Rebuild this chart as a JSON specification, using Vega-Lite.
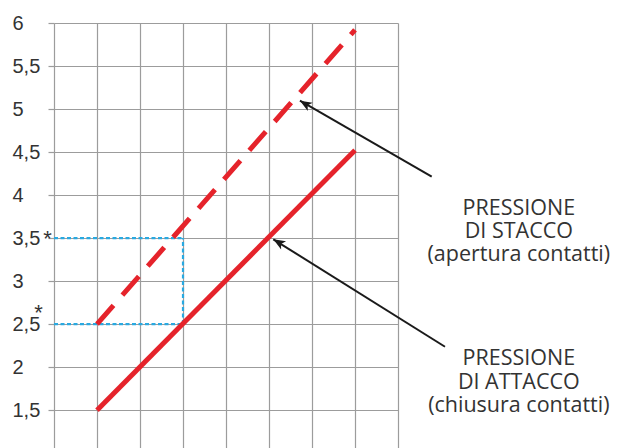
{
  "$schema": "https://vega.github.io/schema/vega-lite/v6.json",
  "width": 344,
  "height": 425,
  "autosize": {"type": "none"},
  "padding": {"left": 54, "top": 23, "right": 224, "bottom": 0},
  "background": "white",
  "config": {"view": {"stroke": null}},
  "datasets": {
    "lines": [
      {"x": 1, "y": 1.5, "s": "attacco"},
      {"x": 7, "y": 4.52, "s": "attacco"},
      {"x": 1, "y": 2.5, "s": "stacco"},
      {"x": 7, "y": 5.92, "s": "stacco"}
    ],
    "guides": [
      {"x": 0, "x2": 3, "y": 3.5, "y2": 3.5},
      {"x": 3, "x2": 3, "y": 2.5, "y2": 3.5},
      {"x": 0, "x2": 3, "y": 2.5, "y2": 2.5}
    ],
    "arrows": [
      {"x": 8.784, "y": 4.213, "x2": 5.72, "y2": 5.097},
      {"x": 9.093, "y": 2.237, "x2": 5.10, "y2": 3.486}
    ],
    "labels": [
      {"x": 10.81, "y": 3.768, "text": "PRESSIONE"},
      {"x": 10.81, "y": 3.497, "text": "DI STACCO"},
      {"x": 10.81, "y": 3.228, "text": "(apertura contatti)"},
      {"x": 10.81, "y": 2.025, "text": "PRESSIONE"},
      {"x": 10.81, "y": 1.751, "text": "DI ATTACCO"},
      {"x": 10.81, "y": 1.478, "text": "(chiusura contatti)"}
    ],
    "stars": [
      {"x": -0.15, "y": 3.41, "text": "*"},
      {"x": -0.36, "y": 2.55, "text": "*"}
    ]
  },
  "layer": [
    {
      "data": {"name": "guides"},
      "mark": {"type": "rule", "color": "#29a9e1", "strokeWidth": 2.2, "strokeDash": [4, 2.5]},
      "encoding": {
        "x": {
          "field": "x", "type": "quantitative",
          "scale": {"domain": [0, 8], "nice": false, "zero": false},
          "axis": {"values": [0, 1, 2, 3, 4, 5, 6, 7, 8], "grid": true, "gridColor": "#9c9c9c", "gridWidth": 1.2, "gridOpacity": 1, "labels": false, "ticks": false, "domain": false, "title": null}
        },
        "y": {
          "field": "y", "type": "quantitative",
          "scale": {"domain": [1.06, 6], "nice": false, "zero": false},
          "axis": {
            "values": [1.5, 2, 2.5, 3, 3.5, 4, 4.5, 5, 5.5, 6],
            "grid": true, "gridColor": "#9c9c9c", "gridWidth": 1.2, "gridOpacity": 1,
            "ticks": true, "tickSize": 6, "tickColor": "#9c9c9c", "tickWidth": 1.2,
            "domain": false, "title": null,
            "format": "~g",
            "labelExpr": "replace(datum.label, '.', ',')",
            "labelAlign": "left", "labelBaseline": "middle", "labelPadding": 36,
            "labelFont": "Liberation Sans", "labelFontSize": 20, "labelColor": "#333333"
          }
        },
        "x2": {"field": "x2"},
        "y2": {"field": "y2"}
      }
    },
    {
      "data": {"name": "lines"},
      "transform": [{"filter": "datum.s == 'attacco'"}],
      "mark": {"type": "line", "color": "#e5232b", "strokeWidth": 5, "strokeCap": "butt"},
      "encoding": {
        "x": {"field": "x", "type": "quantitative"},
        "y": {"field": "y", "type": "quantitative"}
      }
    },
    {
      "data": {"name": "lines"},
      "transform": [{"filter": "datum.s == 'stacco'"}],
      "mark": {"type": "line", "color": "#e5232b", "strokeWidth": 5, "strokeCap": "butt", "strokeDash": [25, 13.5]},
      "encoding": {
        "x": {"field": "x", "type": "quantitative"},
        "y": {"field": "y", "type": "quantitative"}
      }
    },
    {
      "data": {"name": "arrows"},
      "mark": {"type": "rule", "color": "#1a1a1a", "strokeWidth": 2},
      "encoding": {
        "x": {"field": "x", "type": "quantitative"},
        "y": {"field": "y", "type": "quantitative"},
        "x2": {"field": "x2"},
        "y2": {"field": "y2"}
      }
    },
    {
      "data": {"name": "arrows"},
      "mark": {"type": "point", "shape": "M0,0 L0.4,1 L0,0.75 L-0.4,1 Z", "size": 576, "angle": 301, "filled": true, "color": "#1a1a1a", "opacity": 1},
      "encoding": {
        "x": {"field": "x2", "type": "quantitative"},
        "y": {"field": "y2", "type": "quantitative"}
      }
    },
    {
      "data": {"name": "labels"},
      "mark": {"type": "text", "font": "Open Sans", "fontSize": 21.5, "color": "#333333", "align": "center", "baseline": "alphabetic"},
      "encoding": {
        "x": {"field": "x", "type": "quantitative"},
        "y": {"field": "y", "type": "quantitative"},
        "text": {"field": "text"}
      }
    },
    {
      "data": {"name": "stars"},
      "mark": {"type": "text", "font": "Liberation Sans", "fontSize": 22, "color": "#333333", "align": "center", "baseline": "alphabetic"},
      "encoding": {
        "x": {"field": "x", "type": "quantitative"},
        "y": {"field": "y", "type": "quantitative"},
        "text": {"field": "text"}
      }
    }
  ]
}
